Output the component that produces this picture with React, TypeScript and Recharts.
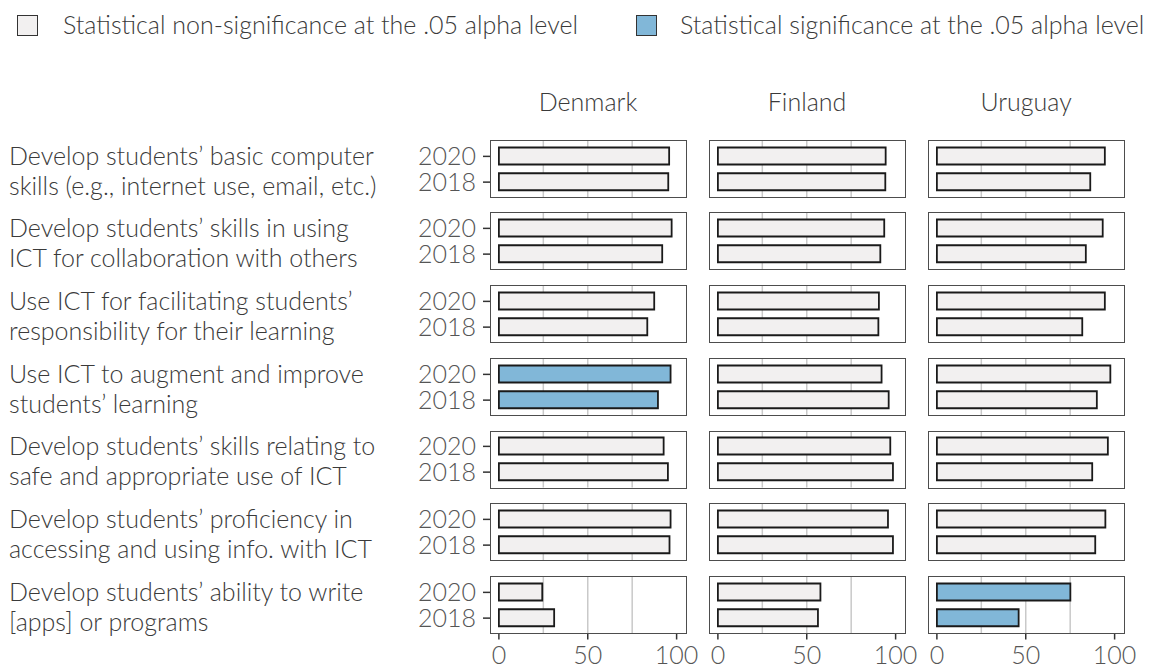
import { BarChart, Bar, XAxis, YAxis, Cell, CartesianGrid } from "recharts";

const countries = ["Denmark", "Finland", "Uruguay"];
const years = ["2020", "2018"];
const items = [
  ["Develop students’ basic computer", "skills (e.g., internet use, email, etc.)"],
  ["Develop students’ skills in using", "ICT for collaboration with others"],
  ["Use ICT for facilitating students’", "responsibility for their learning"],
  ["Use ICT to augment and improve", "students’ learning"],
  ["Develop students’ skills relating to", "safe and appropriate use of ICT"],
  ["Develop students’ proficiency in", "accessing and using info. with ICT"],
  ["Develop students’ ability to write", "[apps] or programs"],
];

const denmark2020 = [95.8, 97.2, 87.4, 96.6, 92.7, 96.6, 24.4];
const denmark2018 = [95.3, 91.9, 83.5, 89.5, 95.1, 96.0, 31.1];
const finland2020 = [94.4, 93.6, 90.6, 92.1, 97.0, 95.7, 57.7];
const finland2018 = [94.2, 91.4, 90.3, 96.1, 98.5, 98.5, 56.3];
const uruguay2020 = [94.5, 93.3, 94.5, 97.6, 96.2, 94.8, 75.1];
const uruguay2018 = [86.3, 83.8, 81.8, 90.0, 87.4, 89.1, 46.0];

// significant at .05 (same flag for both years of an item)
const denmarkSig = [false, false, false, true, false, false, false];
const finlandSig = [false, false, false, false, false, false, false];
const uruguaySig = [false, false, false, false, false, false, true];

const xTicks = [0, 50, 100];
const gridValues = [25, 50, 75];

const legendLabels = [
  "Statistical non-significance at the .05 alpha level",
  "Statistical significance at the .05 alpha level",
];

const series: Record<string, number[][]> = {
  Denmark: [denmark2020, denmark2018],
  Finland: [finland2020, finland2018],
  Uruguay: [uruguay2020, uruguay2018],
};
const sigFlags: Record<string, boolean[]> = {
  Denmark: denmarkSig,
  Finland: finlandSig,
  Uruguay: uruguaySig,
};

const GREY_FILL = "#f2f0f0";
const BLUE_FILL = "#81b7d8";
const FONT = "Lato, 'Open Sans', sans-serif";

const PANEL_LEFT0 = 490.3;
const COL_PITCH = 219;
const ROW_TOP0 = 140.5;
const ROW_PITCH = 72.7;
const PANEL_W = 195.5;
const PANEL_H = 56.5;
const Y_AXIS_W = 90;
const X_AXIS_H = 36;
const X_RIGHT_PAD = 24;

const tickStyle = { fontFamily: FONT, fontSize: 25, fontWeight: 300, fill: "#555" };

function Panel({ country, row, col }: { country: string; row: number; col: number }) {
  const data = years.map((y, i) => ({ year: y, value: series[country][i][row] }));
  const showY = col === 0;
  const showX = row === items.length - 1;
  const yw = showY ? Y_AXIS_W : 0;
  const xh = showX ? X_AXIS_H : 0;
  const rp = showX ? X_RIGHT_PAD : 0;
  const left = PANEL_LEFT0 + col * COL_PITCH;
  const top = ROW_TOP0 + row * ROW_PITCH;
  const fill = sigFlags[country][row] ? BLUE_FILL : GREY_FILL;

  return (
    <>
      <div style={{ position: "absolute", left: left - yw, top }}>
        <BarChart
          width={PANEL_W + yw + rp}
          height={PANEL_H + xh}
          data={data}
          layout="vertical"
          margin={{ top: 0, right: rp, bottom: 0, left: 0 }}
        >
          <CartesianGrid horizontal={false} verticalValues={gridValues} stroke="#c9c9c9" strokeWidth={1.5} />
          <XAxis
            type="number"
            dataKey="value"
            domain={[-5, 105]}
            allowDataOverflow
            ticks={xTicks}
            interval={0}
            hide={!showX}
            height={xh}
            axisLine={false}
            tickSize={6}
            tickMargin={6.5}
            tickLine={{ stroke: "#333", strokeWidth: 1.5 }}
            tick={tickStyle}
          />
          <YAxis
            type="category"
            dataKey="year"
            hide={!showY}
            width={yw}
            interval={0}
            padding={{ top: 2.5, bottom: 2.5 }}
            axisLine={false}
            tickSize={7}
            tickMargin={7}
            tickLine={{ stroke: "#333", strokeWidth: 1.5 }}
            tick={tickStyle}
          />
          <Bar
            dataKey="value"
            barSize={17}
            stroke="#1a1a1a"
            strokeWidth={1.8}
            isAnimationActive={false}
          >
            {data.map((d) => (
              <Cell key={d.year} fill={fill} />
            ))}
          </Bar>
        </BarChart>
      </div>
      <div
        style={{
          position: "absolute",
          left: left - 0.75,
          top: top - 0.75,
          width: PANEL_W + 1.5,
          height: PANEL_H + 1.5,
          border: "1.5px solid #4d4d4d",
          boxSizing: "border-box",
          pointerEvents: "none",
        }}
      />
    </>
  );
}

export default function App() {
  const textStyle = { fontFamily: FONT, fontSize: 25, fontWeight: 300, color: "#3a3a3a", lineHeight: "30px" };
  return (
    <div style={{ position: "absolute", left: 0, top: 0, width: 1158, height: 669, background: "#fff", overflow: "hidden" }}>
      {/* legend */}
      {legendLabels.map((label, i) => (
        <div key={label}>
          <div
            style={{
              position: "absolute",
              left: [17, 636][i],
              top: 15,
              width: 21,
              height: 21,
              boxSizing: "border-box",
              border: "1.5px solid #333",
              background: i === 0 ? GREY_FILL : BLUE_FILL,
            }}
          />
          <div style={{ position: "absolute", left: [63, 680][i], top: 8.5, whiteSpace: "nowrap", ...textStyle }}>
            {label}
          </div>
        </div>
      ))}

      {/* country strips */}
      {countries.map((c, col) => (
        <div
          key={c}
          style={{
            position: "absolute",
            left: PANEL_LEFT0 + col * COL_PITCH,
            width: PANEL_W,
            top: 85.5,
            textAlign: "center",
            ...textStyle,
          }}
        >
          {c}
        </div>
      ))}

      {/* row labels */}
      {items.map((lines, row) => (
        <div
          key={row}
          style={{ position: "absolute", left: 9, top: ROW_TOP0 - 1 + row * ROW_PITCH, whiteSpace: "nowrap", ...textStyle }}
        >
          {lines.map((l) => (
            <div key={l}>{l}</div>
          ))}
        </div>
      ))}

      {items.map((_, row) =>
        countries.map((c, col) => <Panel key={c + row} country={c} row={row} col={col} />)
      )}
    </div>
  );
}
